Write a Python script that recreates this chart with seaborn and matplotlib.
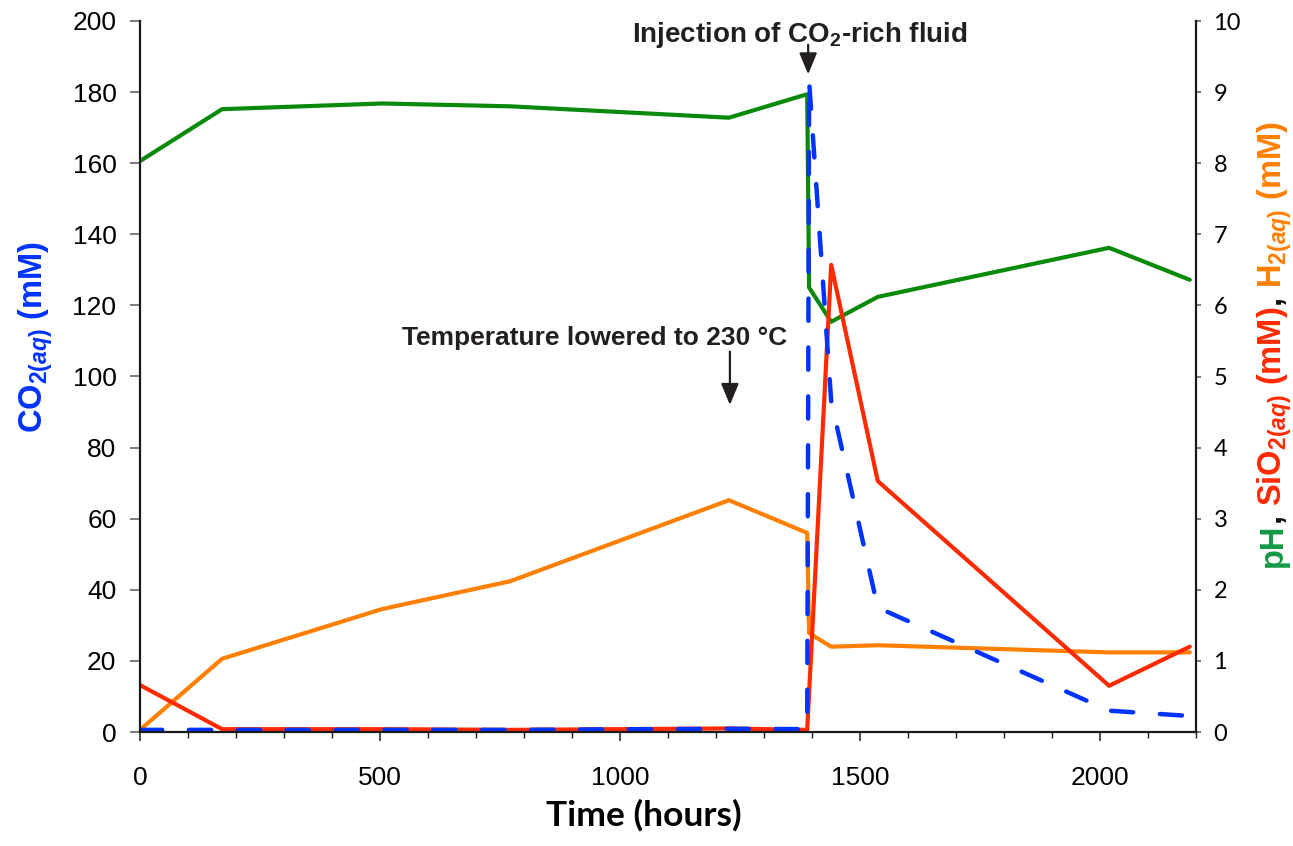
import matplotlib
matplotlib.use("Agg")
import matplotlib.pyplot as plt
from matplotlib.ticker import MultipleLocator, FixedLocator
import seaborn as sns
import pandas as pd

# ---------------- data ----------------
time_h = [0, 171, 505, 771, 1227, 1390, 1394, 1440, 1537, 2019, 2187]
co2_mM = [0.6, 0.6, 0.6, 0.6, 0.9, 0.8, 183, 93, 35, 6, 4.5]
ph = [8.03, 8.76, 8.84, 8.80, 8.64, 8.97, 6.25, 5.77, 6.12, 6.81, 6.36]
h2_mM = [0.03, 1.03, 1.73, 2.12, 3.26, 2.80, 1.39, 1.20, 1.22, 1.12, 1.12]
time_sio2 = [0, 171, 505, 771, 1227, 1390, 1440, 1537, 2019, 2187]
sio2_mM = [0.66, 0.04, 0.04, 0.03, 0.05, 0.03, 6.57, 3.53, 0.65, 1.20]

x_major = [0, 500, 1000, 1500, 2000]
left_ticks = list(range(0, 201, 20))
right_ticks = list(range(0, 11))

C_BLUE = "#0033FF"
C_GREEN = "#0A8A0A"
C_RED = "#FF2A00"
C_ORANGE = "#FF8000"
C_LBL_GREEN = "#139A45"

# ---------------- style ----------------
sns.set_style("ticks")
plt.rcParams['font.family'] = ['Liberation Sans', 'DejaVu Sans']
plt.rcParams['text.color'] = 'black'
plt.rcParams['xtick.labelcolor'] = 'black'
plt.rcParams['ytick.labelcolor'] = 'black'
plt.rcParams['mathtext.fontset'] = 'custom'
plt.rcParams['mathtext.rm'] = 'Liberation Sans:bold'
plt.rcParams['mathtext.it'] = 'Liberation Sans:italic:bold'
plt.rcParams['mathtext.bf'] = 'Liberation Sans:bold'

W, H = 1293, 846
fig = plt.figure(figsize=(W / 100, H / 100), dpi=100)
ax = fig.add_axes([140 / W, 1 - 732 / H, (1196 - 140) / W, (732 - 21) / H])
ax2 = ax.twinx()

df_main = pd.DataFrame({"time": time_h, "co2": co2_mM, "ph": ph, "h2": h2_mM})
df_si = pd.DataFrame({"time": time_sio2, "sio2": sio2_mM})

# right-axis series
sns.lineplot(data=df_main, x="time", y="h2", ax=ax2, color=C_ORANGE, lw=3,
             solid_capstyle="round", solid_joinstyle="round")
sns.lineplot(data=df_main, x="time", y="ph", ax=ax2, color=C_GREEN, lw=3,
             solid_capstyle="round", solid_joinstyle="round")
sns.lineplot(data=df_si, x="time", y="sio2", ax=ax2, color=C_RED, lw=3,
             solid_capstyle="round", solid_joinstyle="round")
# left-axis series
sns.lineplot(data=df_main, x="time", y="co2", ax=ax, color=C_BLUE, lw=3.2)
ln = ax.lines[-1]
ln.set_linestyle((0, (5.0, 6.0)))
ln.set_dash_capstyle("round")
ln.set_dash_joinstyle("round")

ax.set_zorder(ax2.get_zorder() + 1)
ax.patch.set_visible(False)

ax.set_xlim(0, 2200)
ax.set_ylim(0, 200)
ax2.set_ylim(0, 10)

ax.set_xlabel("")
ax.set_ylabel("")
ax2.set_ylabel("")

ax.xaxis.set_major_locator(FixedLocator(x_major))
ax.xaxis.set_minor_locator(MultipleLocator(100))
ax.set_yticks(left_ticks)
ax2.set_yticks(right_ticks)

for s in ["top", "right"]:
    ax.spines[s].set_visible(False)
for s in ["top", "left", "bottom"]:
    ax2.spines[s].set_visible(False)
for sp in [ax.spines["left"], ax.spines["bottom"], ax2.spines["right"]]:
    sp.set_color("#1a1a1a")
    sp.set_linewidth(1.6)

ax.tick_params(axis="x", which="major", direction="out", length=6.5, width=1.1,
               color="#1a1a1a", labelsize=19, pad=18, labelcolor="black")
ax.tick_params(axis="x", which="minor", direction="out", length=4.3, width=1.0,
               color="#1a1a1a")
ax.tick_params(axis="y", direction="out", length=7, width=1.2, color="#666666",
               labelsize=19, pad=10, labelcolor="black")
ax2.tick_params(axis="y", direction="out", length=3.6, width=1.2, color="#666666",
                labelsize=17, pad=9, labelcolor="black")
for lbl in ax2.get_yticklabels():
    lbl.set_family(["Lato", "DejaVu Sans"])

# ---------------- annotations ----------------
ax.text(1375, 194.1, "Injection of CO$_\\mathrm{2}$-rich fluid", ha="center",
        va="baseline", fontsize=20, fontweight="bold", color="#231F20")
ax.annotate("", xy=(1392, 185), xytext=(1392, 193.3),
            arrowprops=dict(arrowstyle="-|>,head_width=0.27,head_length=0.65",
                            color="#231F20", lw=1.6, mutation_scale=20,
                            shrinkA=0, shrinkB=0))
ax.text(946, 108.9, "Temperature lowered to 230 °C", ha="center",
        va="baseline", fontsize=19, fontweight="bold", color="#231F20")
ax.annotate("", xy=(1229, 92), xytext=(1229, 107),
            arrowprops=dict(arrowstyle="-|>,head_width=0.27,head_length=0.65",
                            color="#231F20", lw=1.6, mutation_scale=20,
                            shrinkA=0, shrinkB=0))

# ---------------- axis labels ----------------
fig.text(644 / W, 1 - 826 / H, "Time (hours)", ha="center", va="baseline",
         fontsize=25.5, fontweight="bold", family=["Lato", "DejaVu Sans"])

fig.text(43 / W, 1 - 337 / H, "CO$_{\\mathrm{2}\\mathit{(aq)}}$ (mM)",
         rotation=90, rotation_mode="anchor", ha="center", va="baseline",
         fontsize=23.5, fontweight="bold", color=C_BLUE)

pieces = [
    ("pH", C_LBL_GREEN),
    (", ", "#111111"),
    ("SiO$_{\\mathrm{2}\\mathit{(aq)}}$ (mM)", C_RED),
    (", ", "#111111"),
    ("H$_{\\mathrm{2}\\mathit{(aq)}}$ (mM)", C_ORANGE),
]
fig.canvas.draw()
renderer = fig.canvas.get_renderer()
y_px = H - 567  # display coords from bottom
x_px = 1282
for txt, col in pieces:
    t = fig.text(x_px / W, y_px / H, txt, rotation=90, rotation_mode="anchor",
                 ha="left", va="baseline", fontsize=23.5, fontweight="bold",
                 color=col)
    bb = t.get_window_extent(renderer=renderer)
    y_px += bb.height

fig.savefig("out.png", dpi=100)
